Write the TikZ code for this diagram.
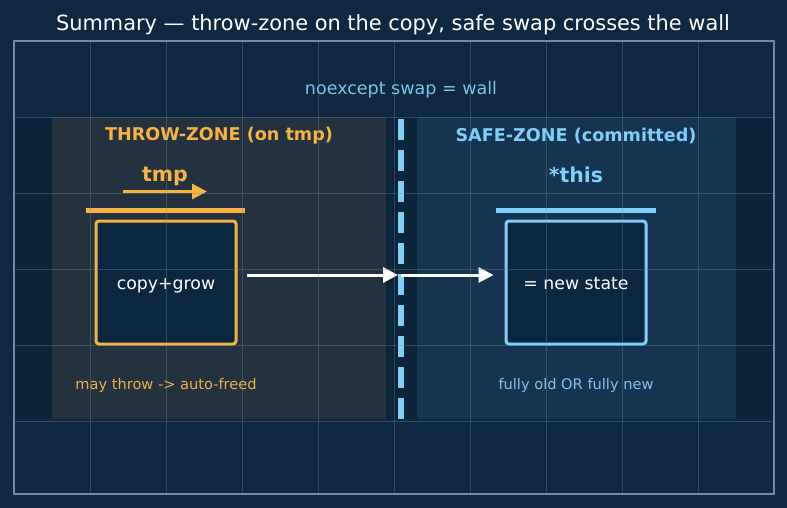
\documentclass[tikz,border=0pt]{standalone}
\usepackage{fontspec}
\setmainfont{DejaVu Sans}
\usepackage{xcolor}
\definecolor{navy_bg}{HTML}{0D2840}
\definecolor{navy_band}{HTML}{0A2439}
\definecolor{navy_box}{HTML}{0B2740}
\definecolor{throw_panel}{HTML}{24313F}
\definecolor{safe_panel}{HTML}{153450}
\definecolor{frame_grey}{HTML}{6F8CA5}
\definecolor{orange_zone}{HTML}{F6B343}
\definecolor{orange_note}{HTML}{E6B04E}
\definecolor{blue_zone}{HTML}{80CFF8}
\definecolor{blue_note}{HTML}{7CC4EA}
\usetikzlibrary{calc,arrows.meta,positioning}

\begin{document}
\begin{tikzpicture}
[	x=1pt, y=-1pt,
	zonebox/.style = {rectangle, draw, line width=3pt, rounded corners=3pt, fill=navy_box,
		minimum width=140pt, minimum height=123pt, text height=13pt, text depth=0pt,
		text=white, font=\fontsize{17.3}{20}\selectfont},
	heading/.style = {font=\bfseries\fontsize{17.6}{20}\selectfont},
	varname/.style = {font=\bfseries\fontsize{20.5}{24}\selectfont},
	note/.style = {font=\fontsize{14.6}{17}\selectfont},
	bar/.style = {line width=5pt},
	flow/.style = {white, line width=3pt, -{Triangle[length=15pt,width=15pt]}},
	gridline/.style = {frame_grey, opacity=0.35, line width=0.6pt}
]
\useasboundingbox[fill=navy_bg] (0,0) rectangle (787,508);

% band and the two zones
\fill[navy_band] (14,117) rectangle (774,419);
\fill[throw_panel] (52,117) rectangle (386,419);
\fill[safe_panel] (417,117) rectangle (736,419);

% title and wall label
\node[white, font=\fontsize{20.9}{24}\selectfont] (title) at (393,24.5) {Summary — throw-zone on the copy, safe swap crosses the wall};
\node[blue_note, font=\fontsize{17.5}{20}\selectfont] (walllabel) at (401,89.5) {noexcept swap = wall};

% the wall
\coordinate (walltop) at (401,119);
\coordinate (wallbot) at (401,419);
\coordinate (wallmid) at (401,274);
\draw[blue_zone, line width=6pt, dash pattern=on 21pt off 10pt] (walltop) -- (wallbot);

% throw-zone
\node[heading, orange_zone] (throwhead) at (219,136) {THROW-ZONE (on tmp)};
\node[varname, orange_zone] (tmpname) at (165,176) {tmp};
\coordinate (tmpfrom) at (123,191.5);
\coordinate (tmpto) at (207,191.5);
\draw[orange_zone, line width=3pt, -{Triangle[length=15pt,width=15pt]}] (tmpfrom) -- (tmpto);
\node[zonebox, draw=orange_zone] (copybox) at (166,282.5) {copy+grow};
\draw[bar, orange_zone] ($(copybox.north west)+(-9,-9.5)$) -- ($(copybox.north east)+(7,-9.5)$);
\node[note, orange_note] (thrownote) at (166,385) {may throw -> auto-freed};

% safe-zone
\node[heading, blue_zone] (safehead) at (576,136) {SAFE-ZONE (committed)};
\node[varname, blue_zone] (thisname) at (576,175) {*this};
\node[zonebox, draw=blue_zone] (statebox) at (576,282.5) {= new state};
\draw[bar, blue_zone] ($(statebox.north west)+(-9,-9.5)$) -- ($(statebox.north east)+(8,-9.5)$);
\node[note, blue_note] (safenote) at (576,385) {fully old OR fully new};

% swap across the wall
\draw[flow] ($(copybox.east)+(9,-7.5)$) -- ($(wallmid)+(-3,1)$);
\draw[flow] ($(wallmid)+(0,1)$) -- ($(statebox.west)+(-11,-7.5)$);

% grid and frame
\foreach \gx in {90,166,...,698}
	\draw[gridline] (\gx,41) -- (\gx,494);
\foreach \gy in {117,193,...,421}
	\draw[gridline] (14,\gy) -- (774,\gy);
\draw[frame_grey, line width=1.5pt] (14,41) rectangle (774,494);

\end{tikzpicture}
\end{document}
